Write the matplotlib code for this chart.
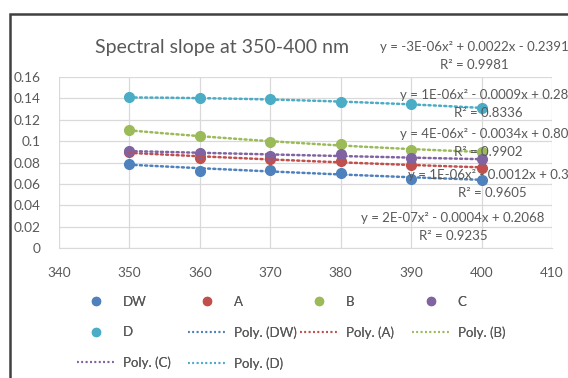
import numpy as np
import matplotlib
matplotlib.use("Agg")
import matplotlib.pyplot as plt
from matplotlib.lines import Line2D
from matplotlib.patches import Rectangle

plt.rcParams['font.family'] = ['Lato', 'DejaVu Sans']

# ---- data ----
wavelength = [350, 360, 370, 380, 390, 400]
series_names = ["DW", "A", "B", "C", "D"]
dw = [0.079, 0.072, 0.073, 0.070, 0.065, 0.064]
a_vals = [0.090, 0.084, 0.083, 0.081, 0.078, 0.075]
b_vals = [0.110, 0.105, 0.099, 0.097, 0.092, 0.090]
c_vals = [0.091, 0.089, 0.086, 0.088, 0.084, 0.083]
d_vals = [0.141, 0.140, 0.139, 0.137, 0.1345, 0.131]

x_ticks = [340, 350, 360, 370, 380, 390, 400, 410]
y_ticks = [0, 0.02, 0.04, 0.06, 0.08, 0.1, 0.12, 0.14, 0.16]
y_tick_labels = ["0", "0.02", "0.04", "0.06", "0.08", "0.1", "0.12", "0.14", "0.16"]

equations = [
    ("y = -3E-06x² + 0.0022x - 0.2391", "R² = 0.9981"),
    ("y = 1E-06x² - 0.0009x + 0.287", "R² = 0.8336"),
    ("y = 4E-06x² - 0.0034x + 0.806", "R² = 0.9902"),
    ("y = 1E-06x² - 0.0012x + 0.35", "R² = 0.9605"),
    ("y = 2E-07x² - 0.0004x + 0.2068", "R² = 0.9235"),
]
# label anchor points in pixels (centre x, y of equation line)
eq_pos = [(474, 47), (488, 95), (488, 134), (492, 175), (453, 218)]

colors = ["#4F81BD", "#C0504D", "#9BBB59", "#8064A2", "#4BACC6"]
GRAY = "#595959"

W, H = 568, 378
fig = plt.figure(figsize=(W / 100, H / 100), dpi=100)
ax = fig.add_axes([59 / W, 1 - 248 / H, (552 - 59) / W, (248 - 77) / H])

# chart frame (cropped on right/bottom)
fig.add_artist(Rectangle((10 / W, -0.1), 1.2, 1 - 14 / H + 0.1,
                         transform=fig.transFigure, fill=False,
                         edgecolor="#404040", lw=1.8))

all_vals = [dw, a_vals, b_vals, c_vals, d_vals]
xs = np.array(wavelength, dtype=float)
xfit = np.linspace(350, 400, 200)
dots = (0, (0.8, 1.3))

marker_handles = []
poly_handles = []
for name, vals, col in zip(series_names, all_vals, colors):
    ax.plot(xs, vals, "o", color=col, ms=7, zorder=3)
    coef = np.polyfit(xs, vals, 2)
    ax.plot(xfit, np.polyval(coef, xfit), color=col, lw=1.8,
            linestyle=dots, dash_capstyle="round", zorder=4)
    marker_handles.append(Line2D([], [], marker="o", ls="none", color=col,
                                 ms=5.8, label=name))
    poly_handles.append(Line2D([], [], color=col, lw=1.5,
                               linestyle=dots, label=f"Poly. ({name})"))

ax.set_xlim(340, 410)
ax.set_ylim(0, 0.16)
ax.set_xticks(x_ticks)
ax.set_yticks(y_ticks)
ax.set_yticklabels(y_tick_labels)
ax.grid(True, color="#D9D9D9", lw=0.9)
ax.set_axisbelow(True)
for s in ["top", "right", "left"]:
    ax.spines[s].set_visible(False)
ax.spines["bottom"].set_color("#D9D9D9")
ax.tick_params(length=0, colors=GRAY, labelsize=9.8)
ax.tick_params(axis="y", pad=13)
ax.tick_params(axis="x", pad=14)

fig.text(222 / W, 1 - 48 / H, "Spectral slope at 350-400 nm",
         ha="center", va="center", fontsize=14, color=GRAY)

for (eq, r2), (cx, cy) in zip(equations, eq_pos):
    fig.text(cx / W, 1 - cy / H, eq, ha="center", va="center",
             fontsize=9.5, color=GRAY, zorder=10)
    fig.text(cx / W, 1 - (cy + 18) / H, r2, ha="center", va="center",
             fontsize=9.5, color=GRAY, zorder=10)

# legend laid out row-major like Excel: one single-column legend per column
m, p = marker_handles, poly_handles
legend_cols = [[m[0], m[4], p[3]], [m[1], p[0], p[4]], [m[2], p[1]], [m[3], p[2]]]
col_x = [77, 188, 300, 412]
for handles, cx in zip(legend_cols, col_x):
    leg = fig.legend(handles=handles, loc="upper left",
                     bbox_to_anchor=(cx / W, 1 - 296 / H), frameon=False,
                     fontsize=9.5, labelcolor=GRAY, handlelength=2.9,
                     handletextpad=0.55, labelspacing=1.38,
                     borderpad=0, borderaxespad=0)
    fig.add_artist(leg)

fig.savefig("out.png", dpi=100)
